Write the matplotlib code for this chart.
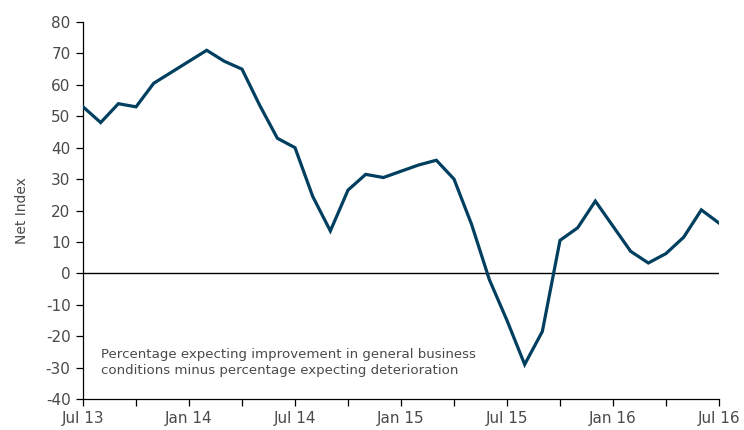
import matplotlib.pyplot as plt
import pandas as pd

# monthly net index, Jul 13 .. Jul 16
months = pd.date_range("2013-07-01", "2016-07-01", freq="MS")
net_index = [53, 48, 54, 53, 60.5, 64, 67.5, 71, 67.5, 65, 53.5, 43, 40,
             24.5, 13.5, 26.5, 31.5, 30.5, 32.5, 34.5, 36, 30, 15.5, -2,
             -15, -29, -18.5, 10.5, 14.5, 23, 15, 7, 3.3, 6.3, 11.5, 20.2, 16]

tick_labels = ["Jul 13", "", "Jan 14", "", "Jul 14", "", "Jan 15", "",
               "Jul 15", "", "Jan 16", "", "Jul 16"]
note = ("Percentage expecting improvement in general business\n"
        "conditions minus percentage expecting deterioration")

plt.rcParams["font.family"] = ["DejaVu Sans"]
plt.rcParams["axes.unicode_minus"] = False
text_color = "#4a4a4a"

fig = plt.figure(figsize=(7.44, 4.30), dpi=100)
ax = fig.add_axes([0.1116, 0.0721, 0.8548, 0.8767])

x = list(range(len(months)))
ax.plot(x, net_index, color="#003f5f", lw=2.3, solid_joinstyle="miter", zorder=3)
ax.axhline(0, color="black", lw=1.0, zorder=2)

ax.set_xlim(0, len(months) - 1)
ax.set_ylim(-40, 80)
ax.set_yticks(range(-40, 81, 10))
ax.set_xticks(x[::3])
ax.set_xticklabels(tick_labels)

for s in ["top", "right"]:
    ax.spines[s].set_visible(False)
for s in ["left", "bottom"]:
    ax.spines[s].set_color("black")
    ax.spines[s].set_linewidth(0.9)

ax.tick_params(axis="both", direction="out", length=5, width=0.9,
               labelsize=11, labelcolor=text_color, pad=4)
ax.set_ylabel("Net Index", fontsize=10, color=text_color, labelpad=12)

ax.text(1.0, -28.4, note, fontsize=9.6, color=text_color,
        va="center", ha="left", linespacing=1.25)

fig.savefig("out.png", dpi=100)
